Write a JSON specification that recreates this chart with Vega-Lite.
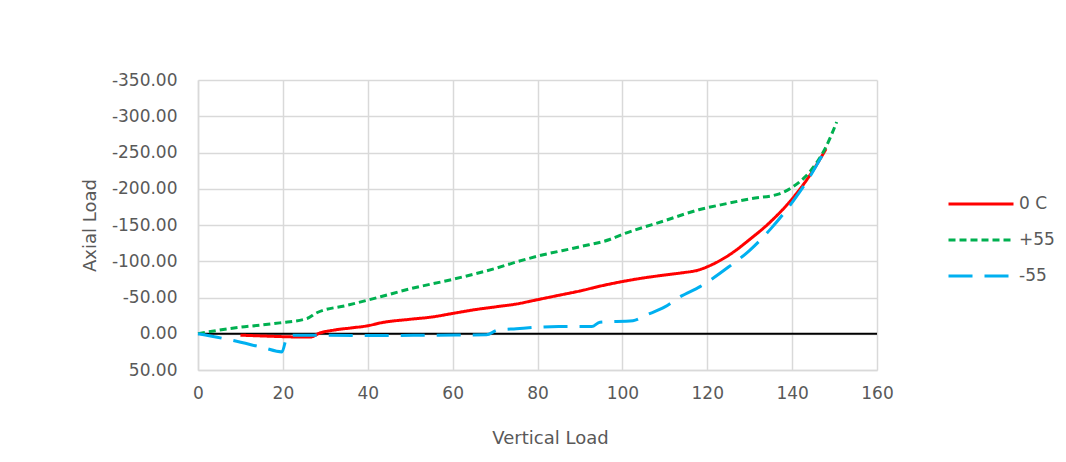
{
  "$schema": "https://vega.github.io/schema/vega-lite/v6.json",
  "width": 679,
  "height": 290,
  "autosize": {"type": "none"},
  "padding": {"left": 198, "top": 80, "right": 189, "bottom": 92},
  "background": "white",
  "title": {"text": "yield.", "font": "Liberation Serif", "fontStyle": "italic", "fontWeight": "normal", "fontSize": 22, "color": "black", "anchor": "start", "frame": "group", "offset": 72, "dx": -188},
  "config": {
    "view": {"stroke": null},
    "font": "DejaVu Sans",
    "axis": {"grid": true, "gridColor": "#d9d9d9", "gridWidth": 1.5, "domainColor": "#d9d9d9", "domainWidth": 1.5, "ticks": false, "labelColor": "#595959", "titleColor": "#595959", "labelFontSize": 17, "titleFontSize": 18, "titleFontWeight": "normal", "labelOverlap": false, "labelFlush": false}
  },
  "datasets": {
    "curves": [
      {"series": "0 C", "x": 10, "y": 2},
      {"series": "0 C", "x": 15, "y": 3},
      {"series": "0 C", "x": 20, "y": 4},
      {"series": "0 C", "x": 24, "y": 4.5},
      {"series": "0 C", "x": 26.5, "y": 4.5},
      {"series": "0 C", "x": 28.7, "y": -1},
      {"series": "0 C", "x": 32, "y": -5},
      {"series": "0 C", "x": 36, "y": -8},
      {"series": "0 C", "x": 40, "y": -11},
      {"series": "0 C", "x": 43, "y": -15},
      {"series": "0 C", "x": 50, "y": -20},
      {"series": "0 C", "x": 55, "y": -23},
      {"series": "0 C", "x": 60, "y": -28},
      {"series": "0 C", "x": 65, "y": -33},
      {"series": "0 C", "x": 70, "y": -37},
      {"series": "0 C", "x": 75, "y": -41},
      {"series": "0 C", "x": 80, "y": -47},
      {"series": "0 C", "x": 85, "y": -53},
      {"series": "0 C", "x": 90, "y": -59},
      {"series": "0 C", "x": 95, "y": -66},
      {"series": "0 C", "x": 100, "y": -72},
      {"series": "0 C", "x": 105, "y": -77},
      {"series": "0 C", "x": 110, "y": -81},
      {"series": "0 C", "x": 114, "y": -84},
      {"series": "0 C", "x": 118, "y": -88},
      {"series": "0 C", "x": 121, "y": -95},
      {"series": "0 C", "x": 125, "y": -108},
      {"series": "0 C", "x": 130, "y": -130},
      {"series": "0 C", "x": 135, "y": -155},
      {"series": "0 C", "x": 140, "y": -186},
      {"series": "0 C", "x": 144, "y": -217},
      {"series": "0 C", "x": 148, "y": -255},
      {"series": "+55", "x": 0, "y": 0},
      {"series": "+55", "x": 5, "y": -5},
      {"series": "+55", "x": 10, "y": -9},
      {"series": "+55", "x": 15, "y": -12},
      {"series": "+55", "x": 19.3, "y": -15},
      {"series": "+55", "x": 25.7, "y": -21},
      {"series": "+55", "x": 28, "y": -29},
      {"series": "+55", "x": 35, "y": -39},
      {"series": "+55", "x": 43, "y": -51},
      {"series": "+55", "x": 50, "y": -62},
      {"series": "+55", "x": 60, "y": -75},
      {"series": "+55", "x": 70, "y": -90},
      {"series": "+55", "x": 75, "y": -99},
      {"series": "+55", "x": 80, "y": -107},
      {"series": "+55", "x": 90, "y": -120},
      {"series": "+55", "x": 97, "y": -130},
      {"series": "+55", "x": 100, "y": -137},
      {"series": "+55", "x": 110, "y": -156},
      {"series": "+55", "x": 118, "y": -171},
      {"series": "+55", "x": 125, "y": -180},
      {"series": "+55", "x": 130, "y": -186},
      {"series": "+55", "x": 137, "y": -193},
      {"series": "+55", "x": 140, "y": -202},
      {"series": "+55", "x": 143, "y": -216},
      {"series": "+55", "x": 146, "y": -238},
      {"series": "+55", "x": 148, "y": -258},
      {"series": "+55", "x": 150.5, "y": -292},
      {"series": "-55", "x": 0, "y": 0},
      {"series": "-55", "x": 8, "y": 9},
      {"series": "-55", "x": 15.3, "y": 19},
      {"series": "-55", "x": 19.8, "y": 25},
      {"series": "-55", "x": 21, "y": 4},
      {"series": "-55", "x": 23, "y": 2},
      {"series": "-55", "x": 30, "y": 2},
      {"series": "-55", "x": 43, "y": 2.5},
      {"series": "-55", "x": 55, "y": 2},
      {"series": "-55", "x": 68, "y": 1.5},
      {"series": "-55", "x": 70.5, "y": -5},
      {"series": "-55", "x": 75, "y": -7},
      {"series": "-55", "x": 85, "y": -10},
      {"series": "-55", "x": 92.8, "y": -10},
      {"series": "-55", "x": 94.7, "y": -16},
      {"series": "-55", "x": 102.5, "y": -18},
      {"series": "-55", "x": 105.7, "y": -26},
      {"series": "-55", "x": 110, "y": -37},
      {"series": "-55", "x": 113.6, "y": -51},
      {"series": "-55", "x": 118.3, "y": -65},
      {"series": "-55", "x": 125, "y": -92},
      {"series": "-55", "x": 130, "y": -115},
      {"series": "-55", "x": 135, "y": -145},
      {"series": "-55", "x": 141, "y": -189},
      {"series": "-55", "x": 144, "y": -215},
      {"series": "-55", "x": 147, "y": -245}
    ]
  },
  "layer": [
    {
      "data": {"values": [{"y": 0}]},
      "mark": {"type": "rule", "color": "black", "strokeWidth": 2},
      "encoding": {
        "y": {
          "field": "y", "type": "quantitative",
          "scale": {"domain": [-350, 50], "reverse": true, "nice": false},
          "axis": {"values": [-350, -300, -250, -200, -150, -100, -50, 0, 50], "tickCount": 9, "labelExpr": "(datum.value < 0 ? '-' : '') + format(abs(datum.value), '.2f')", "title": "Axial Load", "labelPadding": 21, "titlePadding": 12}
        }
      }
    },
    {
      "data": {"name": "curves"},
      "mark": {"type": "line", "strokeWidth": 3, "interpolate": "monotone"},
      "encoding": {
        "x": {
          "field": "x", "type": "quantitative",
          "scale": {"domain": [0, 160], "nice": false},
          "axis": {"values": [0, 20, 40, 60, 80, 100, 120, 140, 160], "title": "Vertical Load", "labelPadding": 15, "titlePadding": 28, "titleX": 352}
        },
        "y": {
          "field": "y", "type": "quantitative",
          "scale": {"domain": [-350, 50], "reverse": true, "nice": false},
          "axis": {"values": [-350, -300, -250, -200, -150, -100, -50, 0, 50], "tickCount": 9, "labelExpr": "(datum.value < 0 ? '-' : '') + format(abs(datum.value), '.2f')", "title": "Axial Load", "labelPadding": 21, "titlePadding": 12}
        },
        "color": {
          "field": "series", "type": "nominal",
          "scale": {"domain": ["0 C", "+55", "-55"], "range": ["#ff0000", "#00b050", "#00b0f0"]},
          "legend": {"title": null, "orient": "none", "legendX": 749, "legendY": 110, "symbolType": "M-1,0H4.2", "symbolSize": 625, "symbolStrokeWidth": 3, "labelFontSize": 17, "labelColor": "#595959", "labelOffset": 44, "rowPadding": 14}
        },
        "strokeDash": {
          "field": "series", "type": "nominal",
          "scale": {"domain": ["0 C", "+55", "-55"], "range": [[1, 0], [7, 4], [24, 12]]},
          "legend": {"title": null, "orient": "none", "legendX": 749, "legendY": 110, "symbolType": "M-1,0H4.2", "symbolSize": 625, "symbolStrokeWidth": 3, "labelFontSize": 17, "labelColor": "#595959", "labelOffset": 44, "rowPadding": 14}
        }
      }
    }
  ]
}
